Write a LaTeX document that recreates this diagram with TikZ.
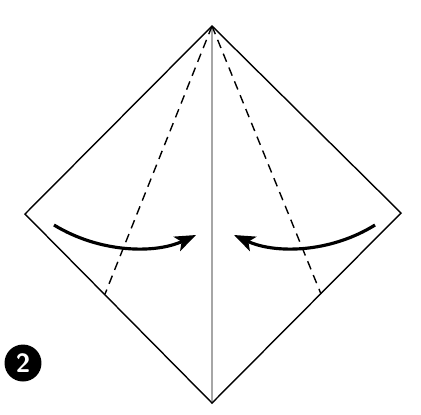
\documentclass[tikz,border=0pt]{standalone}
\usepackage{amssymb}
\usepackage{amsmath}
\usetikzlibrary{arrows.meta}

\begin{document}
\begin{tikzpicture}[x=0.02cm,y=-0.02cm,line join=miter]
	\useasboundingbox (0,0) rectangle (421,414);
	%CORNERS
	\coordinate (top) at (212,26);
	\coordinate (left) at (25,214);
	\coordinate (right) at (401,213);
	\coordinate (bottom) at (212,403);
	\coordinate (lfoot) at (105,294);
	\coordinate (rfoot) at (321,294);
	
	%CENTRE CREASE
	\draw[gray!70,line width=0.6pt] (top)--(bottom);
	
	%SQUARE
	\draw[line width=0.8pt] (top)--(right)--(bottom)--(left)--cycle;
	
	%FOLD LINES
	\draw[dashed,line width=0.8pt,dash pattern=on 5pt off 3.5pt] (top)--(lfoot);
	\draw[dashed,line width=0.8pt,dash pattern=on 5pt off 3.5pt] (top)--(rfoot);
	
	%ARROWS
	\draw[line width=1.8pt,-{Stealth[length=12pt,width=9pt,inset=3pt]}] (54,225) .. controls (100,253) and (155,254) .. (196,235);
	\draw[line width=1.8pt,-{Stealth[length=12pt,width=9pt,inset=3pt]}] (375,225) .. controls (330,253) and (275,254) .. (234,235);
	
	%STEP NUMBER
	\node[circle,fill=black,minimum size=0.74cm,inner sep=0pt,text=white,font=\sffamily\bfseries\fontsize{15}{15}\selectfont] (stepno) at (23,363) {2};
\end{tikzpicture}
\end{document}
